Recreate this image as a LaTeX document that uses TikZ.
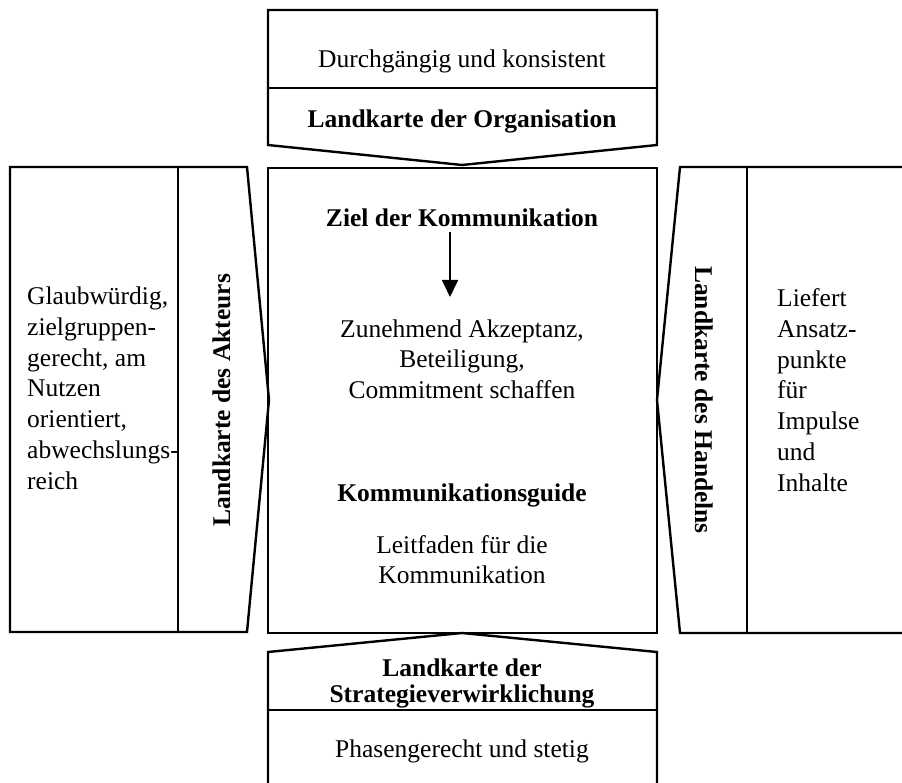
\documentclass[tikz,border=0pt]{standalone}
\usepackage{fontspec}
\setmainfont{Liberation Serif}
\usetikzlibrary{arrows.meta}
\begin{document}
\begin{tikzpicture}[x=1pt,y=-1pt,
  frame/.style={draw=black, line width=2.4pt, line join=miter},
  body/.style={inner sep=0pt, font=\fontsize{25.5}{30.9}\selectfont},
  head/.style={inner sep=0pt, font=\fontsize{25.5}{30.9}\selectfont\bfseries},
  flow/.style={line width=1.8pt, -{Triangle[width=16pt,length=17pt]}}]
\useasboundingbox (0,0) rectangle (902,783);

% central frame
\draw[frame] (268,168) rectangle (657,633);

% top arrow box
\draw[frame] (268,10) -- (657,10) -- (657,145) -- (462,165) -- (268,145) -- cycle;
\draw[frame] (268,88) -- (657,88);

% bottom arrow box
\draw[frame] (268,800) -- (268,652) -- (462,633) -- (657,652) -- (657,800);
\draw[frame] (268,710) -- (657,710);

% left arrow box
\draw[frame] (10,167) -- (247,167) -- (269,400) -- (247,632) -- (10,632) -- cycle;
\draw[frame] (178,167) -- (178,632);

% right arrow box
\draw[frame] (915,167) -- (680,167) -- (657,400) -- (680,633) -- (915,633);
\draw[frame] (747,167) -- (747,633);

% top texts
\node[body, anchor=base] (konsistent) at (462,68) {Durchgängig und konsistent};
\node[head, anchor=base] (organisation) at (462,128) {Landkarte der Organisation};

% centre texts
\node[head, anchor=base] (ziel) at (462,227) {Ziel der Kommunikation};
\node[body, anchor=north, align=center, font=\fontsize{25.5}{30.5}\selectfont]
  (akzeptanz) at (462,315.65) {\strut Zunehmend Akzeptanz,\\Beteiligung,\\Commitment schaffen};
\node[head, anchor=base] (guide) at (462,501) {Kommunikationsguide};
\node[body, anchor=north, align=center, font=\fontsize{25.5}{30}\selectfont]
  (leitfaden) at (462,532) {\strut Leitfaden für die\\Kommunikation};

\coordinate (flowstart) at (450,232);
\coordinate (flowend) at (450,297);
\draw[flow] (flowstart) -- (flowend);

% left texts
\node[body, anchor=north west, align=left] (akteur) at (27,282.4)
  {\strut Glaubwürdig,\\zielgruppen-\\gerecht, am\\Nutzen\\orientiert,\\abwechslungs-\\reich};
\node[head, anchor=base, rotate=90] (akteurkarte) at (230,400) {Landkarte des Akteurs};

% right texts
\node[body, anchor=north west, align=left] (handeln) at (777,284.4)
  {\strut Liefert\\Ansatz-\\punkte\\für\\Impulse\\und\\Inhalte};
\node[head, anchor=base, rotate=-90] (handelnkarte) at (695,400) {Landkarte des Handelns};

% bottom texts
\node[head, anchor=north, align=center, font=\fontsize{25.5}{26}\selectfont\bfseries]
  (strategie) at (462,657.8) {\strut Landkarte der\\Strategieverwirklichung};
\node[body, anchor=base] (stetig) at (462,757) {Phasengerecht und stetig};
\end{tikzpicture}
\end{document}
